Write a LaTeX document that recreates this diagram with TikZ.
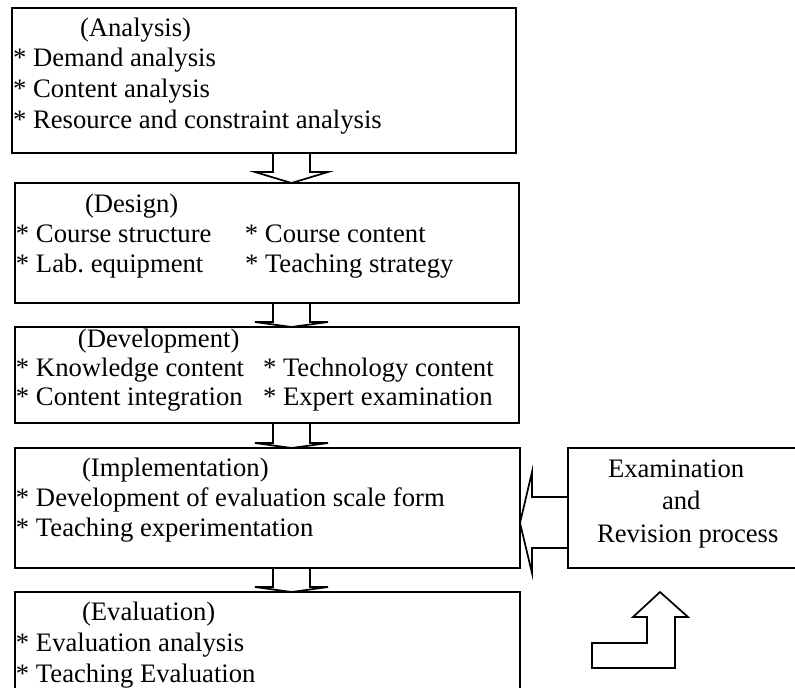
\documentclass[tikz,border=0pt]{standalone}
\usepackage{fontspec}
\setmainfont{Liberation Serif}
\usetikzlibrary{calc,backgrounds}
\frenchspacing
\newcommand\blkdown[3]{%
  \draw[barrow] (273,0 |- #1.south) -- ($(273,0 |- #2.north)+(0,-#3)$)
    -- ($(255,0 |- #2.north)+(0,-#3)$) -- (291.5,0 |- #2.north)
    -- ($(328,0 |- #2.north)+(0,-#3)$) -- ($(310,0 |- #2.north)+(0,-#3)$)
    -- (310,0 |- #1.south);}
\begin{document}
\begin{tikzpicture}[x=0.75pt,y=-0.75pt,
  box/.style={draw, line width=1.7pt, rectangle, inner sep=0pt, outer sep=0pt, anchor=north west},
  txt/.style={inner sep=0pt, outer sep=0pt, anchor=base west},
  barrow/.style={draw, line width=1.3pt, fill=white, line join=miter}]
\useasboundingbox (0,0) rectangle (795,687);
\clip (0,0) rectangle (795,687);
% boxes
\node[box, minimum width=378pt, minimum height=108.75pt] (A) at (12,8) {};
\node[box, minimum width=378pt, minimum height=90pt] (D) at (15,183) {};
\node[box, minimum width=378pt, minimum height=72pt] (V) at (15,327) {};
\node[box, minimum width=378.75pt, minimum height=90pt] (I) at (15,448) {};
\node[box, minimum width=378.75pt, minimum height=82.5pt] (E) at (15,592) {};
\node[box, minimum width=180pt, minimum height=90pt] (R) at (568,448) {};
% texts
\node[txt, font=\fontsize{20}{23}\selectfont] (At) at ($(A.north west)+(1,28)$) {\begin{tabular}[t]{@{}l@{}}\hspace*{50.25pt}(Analysis)\\ {*} Demand analysis\\ {*} Content analysis\\ {*} Resource and constraint analysis\end{tabular}};
\node[txt, font=\fontsize{20}{22.5}\selectfont] (Dt) at ($(D.north west)+(1,29)$) {\begin{tabular}[t]{@{}p{171.75pt}@{}l@{}}\multicolumn{2}{@{}l@{}}{\hspace*{51.75pt}(Design)}\\ {*} Course structure & {*} Course content\\ {*} Lab. equipment & {*} Teaching strategy\end{tabular}};
\node[txt, font=\fontsize{20}{21.9}\selectfont] (Vt) at ($(V.north west)+(1,20)$) {\begin{tabular}[t]{@{}p{185.25pt}@{}l@{}}\multicolumn{2}{@{}l@{}}{\hspace*{46.5pt}(Development)}\\ {*} Knowledge content & {*} Technology content\\ {*} Content integration & {*} Expert examination\end{tabular}};
\node[txt, font=\fontsize{20}{22.5}\selectfont] (It) at ($(I.north west)+(1,28)$) {\begin{tabular}[t]{@{}l@{}}\hspace*{49.5pt}(Implementation)\\ {*} Development of evaluation scale form\\ {*} Teaching experimentation\end{tabular}};
\node[txt, font=\fontsize{20}{23.25}\selectfont] (Et) at ($(E.north west)+(1,28)$) {\begin{tabular}[t]{@{}l@{}}\hspace*{49.5pt}(Evaluation)\\ {*} Evaluation analysis\\ {*} Teaching Evaluation\end{tabular}};
\node[txt, font=\fontsize{20}{24.4}\selectfont] (Rt) at (597,477) {\begin{tabular}[t]{@{}l@{}}\hspace*{8.25pt}Examination\\ \hspace*{48.75pt}and\\ Revision process\end{tabular}};
% block arrows
\begin{scope}[on background layer]
\blkdown{A}{D}{11}
\blkdown{D}{V}{5}
\blkdown{V}{I}{5}
\blkdown{I}{E}{5}
\draw[barrow] (R.west |- 0,497) -- (532,497) -- (532,472) -- (I.east |- 0,523)
  -- (532,573) -- (532,548) -- (R.west |- 0,548);
\draw[barrow] (660,592) -- (688,617) -- (675,617) -- (675,668) -- (592,668)
  -- (592,643) -- (647,643) -- (647,617) -- (633,617) -- cycle;
\end{scope}
\end{tikzpicture}
\end{document}
